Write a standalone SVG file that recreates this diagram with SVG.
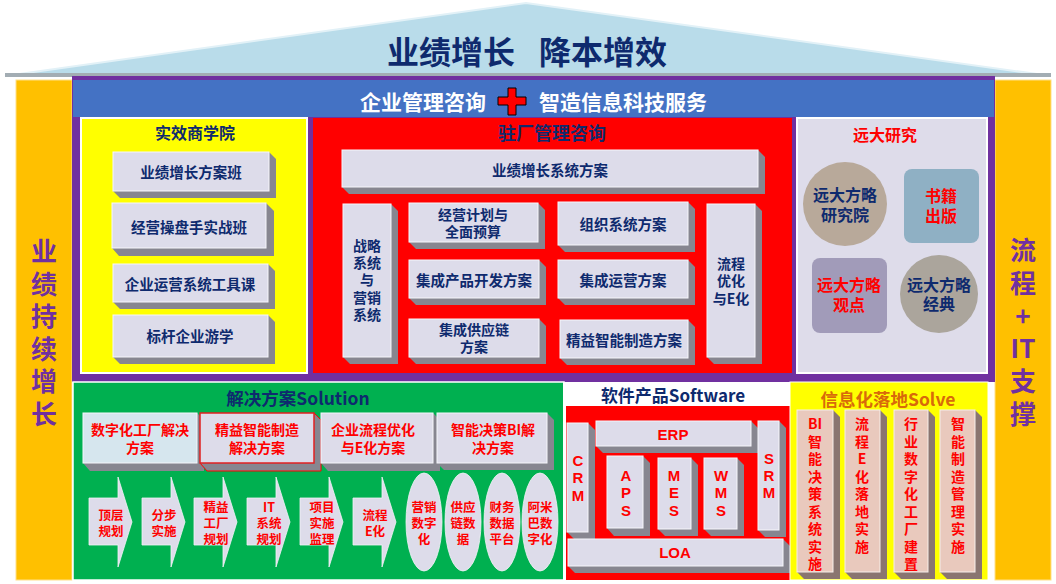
<svg xmlns="http://www.w3.org/2000/svg" width="1056" height="584" viewBox="0 0 1056 584">
<style>
text{font-family:"Noto Sans CJK SC","Noto Sans",sans-serif;text-anchor:middle;dominant-baseline:central;font-weight:bold}
.face{fill:#dddcea;stroke:#f6f6fb;stroke-width:1}
.sh{fill:#878690}
.nv{fill:#0e2a6e}
.rd{fill:#ff0000}
.pu{fill:#7030a0}
.f15{font-size:14.5px}
.f14{font-size:14px}
.f13{font-size:12.5px}
.lt{font-size:15px;font-family:"Liberation Sans","DejaVu Sans",sans-serif}
.pf{fill:#e9c9bd;stroke:#f6eee9;stroke-width:1}
.psh{fill:#8a7570}
</style>
<rect width="1056" height="584" fill="#ffffff"/>
<g id="roof">
<polygon points="5,76 526,3 1051,76" fill="#b9dcea" stroke="#e2f1f7" stroke-width="2"/>
<rect x="5" y="73" width="1046" height="4" fill="#a3adb3"/>
<text x="451" y="50" class="nv" style="font-size:32px">业绩增长</text>
<text x="603" y="50" class="nv" style="font-size:32px">降本增效</text>
</g>
<g id="left-pillar">
<rect x="16" y="80" width="56" height="500" fill="#ffc000" stroke="#ffe08a" stroke-width="1"/>
<text class="pu" style="font-size:26px" x="44"><tspan x="44" y="249">业</tspan><tspan x="44" y="282">绩</tspan><tspan x="44" y="314">持</tspan><tspan x="44" y="347">续</tspan><tspan x="44" y="379">增</tspan><tspan x="44" y="412">长</tspan></text>
</g>
<g id="right-pillar">
<rect x="995" y="80" width="56" height="500" fill="#ffc000" stroke="#ffe08a" stroke-width="1"/>
<text class="pu" style="font-size:26px" x="1023"><tspan x="1023" y="248">流</tspan><tspan x="1023" y="281">程</tspan><tspan x="1023" y="314">+</tspan><tspan x="1023" y="346">IT</tspan><tspan x="1023" y="379">支</tspan><tspan x="1023" y="412">撑</tspan></text>
</g>
<g id="frame">
<rect x="72" y="76" width="923" height="306" fill="#7030a0"/>
<rect x="73" y="80" width="921" height="37" fill="#4472c4"/>
<text x="423" y="101" fill="#ffffff" style="font-size:21px">企业管理咨询</text>
<text x="623" y="101" fill="#ffffff" style="font-size:21px">智造信息科技服务</text>
<polygon points="508,88 516,88 516,97 526,97 526,105 516,105 516,115 508,115 508,105 498,105 498,97 508,97" fill="#ff0000" stroke="#000" stroke-width="1"/>
</g>
<g id="academy">
<rect x="81" y="118" width="226" height="255" fill="#ffff00" stroke="#ffffff" stroke-width="2"/>
<text x="195" y="132" class="nv" style="font-size:16px">实效商学院</text>
<polygon class="sh" points="113,191 120,198 276,198 276,159 269,152"/>
<rect class="face" x="113" y="152" width="156" height="39"/>
<text x="191" y="171" class="nv f15">业绩增长方案班</text>
<polygon class="sh" points="112,248 119,256 274,256 274,211 266,203"/>
<rect class="face" x="112" y="203" width="154" height="45"/>
<text x="189" y="226" class="nv f15">经营操盘手实战班</text>
<polygon class="sh" points="113,302 120,309 275,309 275,271 268,264"/>
<rect class="face" x="113" y="264" width="155" height="38"/>
<text x="190" y="283" class="nv f15">企业运营系统工具课</text>
<polygon class="sh" points="113,357 120,364 275,364 275,322 268,315"/>
<rect class="face" x="113" y="315" width="155" height="42"/>
<text x="190" y="335" class="nv f15">标杆企业游学</text>
</g>
<g id="consulting">
<rect x="313" y="118" width="479" height="255" fill="#ff0000"/>
<text x="552" y="132" class="nv" style="font-size:18px">驻厂管理咨询</text>
<polygon class="sh" points="342,187 349,194 765,194 765,157 758,150"/>
<rect class="face" x="342" y="150" width="416" height="37"/>
<text x="550" y="169" class="nv f15">业绩增长系统方案</text>
<polygon class="sh" points="343,357 350,364 398,364 398,211 391,204"/>
<rect class="face" x="343" y="204" width="48" height="153"/>
<text class="nv f14"><tspan x="367" y="245">战略</tspan><tspan x="367" y="262">系统</tspan><tspan x="367" y="279">与</tspan><tspan x="367" y="297">营销</tspan><tspan x="367" y="314">系统</tspan></text>
<polygon class="sh" points="409,242 416,249 545,249 545,210 538,203"/>
<rect class="face" x="409" y="203" width="129" height="39"/>
<text class="nv f14"><tspan x="473" y="214">经营计划与</tspan><tspan x="473" y="231">全面预算</tspan></text>
<polygon class="sh" points="409,298 416,305 546,305 546,267 539,260"/>
<rect class="face" x="409" y="260" width="130" height="38"/>
<text x="474" y="279" class="nv f15">集成产品开发方案</text>
<polygon class="sh" points="409,357 416,364 546,364 546,326 539,319"/>
<rect class="face" x="409" y="319" width="130" height="38"/>
<text class="nv f14"><tspan x="474" y="329">集成供应链</tspan><tspan x="474" y="346">方案</tspan></text>
<polygon class="sh" points="558,245 565,252 695,252 695,209 688,202"/>
<rect class="face" x="558" y="202" width="130" height="43"/>
<text x="623" y="223" class="nv f15">组织系统方案</text>
<polygon class="sh" points="558,298 565,305 695,305 695,267 688,260"/>
<rect class="face" x="558" y="260" width="130" height="38"/>
<text x="623" y="279" class="nv f15">集成运营方案</text>
<polygon class="sh" points="560,358 567,365 695,365 695,327 688,320"/>
<rect class="face" x="560" y="320" width="128" height="38"/>
<text x="624" y="339" class="nv f15">精益智能制造方案</text>
<polygon class="sh" points="707,357 714,364 762,364 762,211 755,204"/>
<rect class="face" x="707" y="204" width="48" height="153"/>
<text class="nv f14"><tspan x="731" y="263">流程</tspan><tspan x="731" y="280">优化</tspan><tspan x="731" y="298">与E化</tspan></text>
</g>
<g id="research">
<rect x="797" y="118" width="190" height="255" fill="#dedcea" stroke="#ffffff" stroke-width="2"/>
<text x="885" y="134" class="rd" style="font-size:16px">远大研究</text>
<circle cx="845" cy="204" r="42" fill="#b8a99a"/>
<text class="nv" style="font-size:16px"><tspan x="845" y="194">远大方略</tspan><tspan x="845" y="214">研究院</tspan></text>
<rect x="904" y="169" width="75" height="74" rx="8" fill="#8fb0c4"/>
<text class="rd" style="font-size:16px"><tspan x="941" y="195">书籍</tspan><tspan x="941" y="215">出版</tspan></text>
<rect x="812" y="258" width="75" height="75" rx="8" fill="#a19bb9"/>
<text class="rd" style="font-size:16px"><tspan x="849" y="284">远大方略</tspan><tspan x="849" y="304">观点</tspan></text>
<circle cx="939" cy="294" r="39" fill="#aba59c"/>
<text class="nv" style="font-size:16px"><tspan x="939" y="284">远大方略</tspan><tspan x="939" y="303">经典</tspan></text>
</g>
<g id="solution">
<rect x="73" y="382" width="491" height="198" fill="#00b050" stroke="#ffffff" stroke-width="1.5"/>
<text x="298" y="397" class="nv" style="font-size:17.5px">解决方案Solution</text>
<polygon class="sh" points="83,463 90,471 204,471 204,420 197,413"/>
<rect x="83" y="413" width="114" height="50" fill="#d6e6ee" stroke="#f6f6fb"/>
<text class="rd f14"><tspan x="140" y="429">数字化工厂解决</tspan><tspan x="140" y="447">方案</tspan></text>
<polygon class="sh" points="200,463 207,471 321,471 321,420 314,413" stroke="#ff0000" stroke-width="1"/>
<rect x="200" y="413" width="114" height="50" fill="#dddcea" stroke="#e02020" stroke-width="1.5"/>
<text class="rd f14"><tspan x="257" y="429">精益智能制造</tspan><tspan x="257" y="447">解决方案</tspan></text>
<polygon class="sh" points="321,463 328,471 440,471 440,420 433,413"/>
<rect class="face" x="321" y="413" width="112" height="50"/>
<text class="rd f14"><tspan x="373" y="429">企业流程优化</tspan><tspan x="373" y="447">与E化方案</tspan></text>
<polygon class="sh" points="437,463 444,470 554,470 554,420 547,413"/>
<rect class="face" x="437" y="413" width="110" height="50"/>
<text class="rd f14"><tspan x="493" y="429">智能决策BI解</tspan><tspan x="493" y="447">决方案</tspan></text>
<g fill="#dddcea" stroke="#f2f2f8" stroke-width="0.8">
<polygon points="89,498 118,498 118,477 132,522 118,567 118,545 89,545"/>
<polygon points="142,498 171,498 171,477 185,522 171,567 171,545 142,545"/>
<polygon points="194,498 223,498 223,477 237,522 223,567 223,545 194,545"/>
<polygon points="247,498 276,498 276,477 290,522 276,567 276,545 247,545"/>
<polygon points="300,498 329,498 329,477 343,522 329,567 329,545 300,545"/>
<polygon points="353,498 382,498 382,477 396,522 382,567 382,545 353,545"/>
<ellipse cx="424" cy="522" rx="18" ry="49"/>
<ellipse cx="463" cy="522" rx="18" ry="49"/>
<ellipse cx="502" cy="522" rx="18" ry="49"/>
<ellipse cx="540" cy="522" rx="18" ry="49"/>
</g>
<text class="rd f13"><tspan x="111" y="514">顶层</tspan><tspan x="111" y="530">规划</tspan></text>
<text class="rd f13"><tspan x="164" y="514">分步</tspan><tspan x="164" y="530">实施</tspan></text>
<text class="rd f13"><tspan x="216" y="506">精益</tspan><tspan x="216" y="522">工厂</tspan><tspan x="216" y="538">规划</tspan></text>
<text class="rd f13"><tspan x="269" y="506">IT</tspan><tspan x="269" y="522">系统</tspan><tspan x="269" y="538">规划</tspan></text>
<text class="rd f13"><tspan x="322" y="506">项目</tspan><tspan x="322" y="522">实施</tspan><tspan x="322" y="538">监理</tspan></text>
<text class="rd f13"><tspan x="375" y="514">流程</tspan><tspan x="375" y="530">E化</tspan></text>
<text class="rd f13"><tspan x="424" y="506">营销</tspan><tspan x="424" y="522">数字</tspan><tspan x="424" y="538">化</tspan></text>
<text class="rd f13"><tspan x="463" y="506">供应</tspan><tspan x="463" y="522">链数</tspan><tspan x="463" y="538">据</tspan></text>
<text class="rd f13"><tspan x="502" y="506">财务</tspan><tspan x="502" y="522">数据</tspan><tspan x="502" y="538">平台</tspan></text>
<text class="rd f13"><tspan x="540" y="506">阿米</tspan><tspan x="540" y="522">巴数</tspan><tspan x="540" y="538">字化</tspan></text>
</g>
<g id="software">
<rect x="563" y="382" width="227" height="198" fill="#ffffff"/>
<text x="673" y="394" class="nv" style="font-size:17px">软件产品Software</text>
<rect x="566" y="406" width="224" height="174" fill="#ff0000"/>
<polygon class="sh" points="596,446 603,453 758,453 758,428 751,421"/>
<rect class="face" x="596" y="421" width="155" height="25"/>
<text x="673" y="434" class="rd lt">ERP</text>
<polygon class="sh" points="567,532 574,539 595,539 595,430 588,423"/>
<rect class="face" x="567" y="423" width="21" height="109"/>
<text class="rd lt"><tspan x="578" y="460">C</tspan><tspan x="578" y="477">R</tspan><tspan x="578" y="495">M</tspan></text>
<polygon class="sh" points="758,530 765,537 786,537 786,428 779,421"/>
<rect class="face" x="758" y="421" width="21" height="109"/>
<text class="rd lt"><tspan x="769" y="458">S</tspan><tspan x="769" y="475">R</tspan><tspan x="769" y="492">M</tspan></text>
<polygon class="sh" points="607,528 614,536 650,536 650,463 643,456"/>
<rect class="face" x="607" y="456" width="36" height="72"/>
<text class="rd lt"><tspan x="626" y="475">A</tspan><tspan x="626" y="492">P</tspan><tspan x="626" y="510">S</tspan></text>
<polygon class="sh" points="658,529 665,536 698,536 698,465 691,458"/>
<rect class="face" x="658" y="458" width="33" height="71"/>
<text class="rd lt"><tspan x="674" y="475">M</tspan><tspan x="674" y="492">E</tspan><tspan x="674" y="510">S</tspan></text>
<polygon class="sh" points="704,529 711,536 744,536 744,465 737,458"/>
<rect class="face" x="704" y="458" width="33" height="71"/>
<text class="rd lt"><tspan x="721" y="475">W</tspan><tspan x="721" y="492">M</tspan><tspan x="721" y="510">S</tspan></text>
<polygon class="sh" points="568,566 575,573 790,573 790,546 783,539"/>
<rect class="face" x="568" y="539" width="215" height="27"/>
<text x="675" y="552" class="rd lt">LOA</text>
</g>
<g id="solve">
<rect x="790" y="382" width="198" height="198" fill="#ffff00" stroke="#ffffff" stroke-width="1"/>
<text x="888" y="398" style="font-size:17.5px;fill:#d86a0a">信息化落地Solve</text>
<polygon class="psh" points="797,572 804,579 840,579 840,417 833,410"/>
<rect class="pf" x="797" y="410" width="36" height="162"/>
<text class="rd f14"><tspan x="815" y="423">BI</tspan><tspan x="815" y="441">智</tspan><tspan x="815" y="458">能</tspan><tspan x="815" y="476">决</tspan><tspan x="815" y="493">策</tspan><tspan x="815" y="511">系</tspan><tspan x="815" y="528">统</tspan><tspan x="815" y="546">实</tspan><tspan x="815" y="563">施</tspan></text>
<polygon class="psh" points="845,572 852,579 887,579 887,417 880,410"/>
<rect class="pf" x="845" y="410" width="35" height="162"/>
<text class="rd f14"><tspan x="862" y="423">流</tspan><tspan x="862" y="441">程</tspan><tspan x="862" y="458">E</tspan><tspan x="862" y="476">化</tspan><tspan x="862" y="493">落</tspan><tspan x="862" y="511">地</tspan><tspan x="862" y="528">实</tspan><tspan x="862" y="546">施</tspan></text>
<polygon class="psh" points="894,572 901,579 935,579 935,417 928,410"/>
<rect class="pf" x="894" y="410" width="34" height="162"/>
<text class="rd f14"><tspan x="911" y="423">行</tspan><tspan x="911" y="441">业</tspan><tspan x="911" y="458">数</tspan><tspan x="911" y="476">字</tspan><tspan x="911" y="493">化</tspan><tspan x="911" y="511">工</tspan><tspan x="911" y="528">厂</tspan><tspan x="911" y="546">建</tspan><tspan x="911" y="563">置</tspan></text>
<polygon class="psh" points="940,572 947,579 982,579 982,417 975,410"/>
<rect class="pf" x="940" y="410" width="35" height="162"/>
<text class="rd f14"><tspan x="958" y="423">智</tspan><tspan x="958" y="441">能</tspan><tspan x="958" y="458">制</tspan><tspan x="958" y="476">造</tspan><tspan x="958" y="493">管</tspan><tspan x="958" y="511">理</tspan><tspan x="958" y="528">实</tspan><tspan x="958" y="546">施</tspan></text>
</g>
<g id="connectors"></g>
</svg>
